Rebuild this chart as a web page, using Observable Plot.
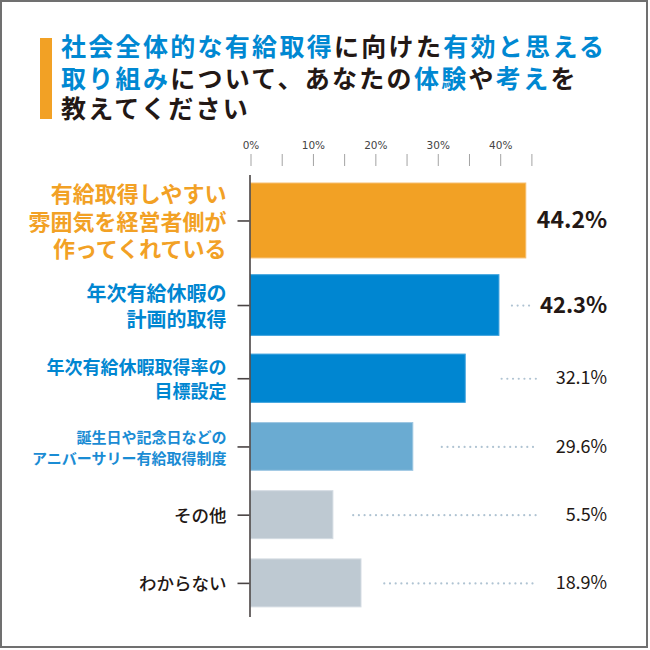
<!DOCTYPE html>
<html>
<head>
<meta charset="utf-8">
<script src="https://cdn.jsdelivr.net/npm/d3@7"></script>
<script src="https://cdn.jsdelivr.net/npm/@observablehq/plot@0.6"></script>
<style>
html, body { margin: 0; padding: 0; background: #fff; }
#page { position: relative; width: 650px; height: 650px; overflow: hidden; font-family: "Noto Sans CJK JP", sans-serif; }
#frame { position: absolute; left: 0; top: 0; width: 648px; height: 648px; box-sizing: border-box; border: 2px solid #707070; pointer-events: none; }
#accent { position: absolute; left: 40px; top: 38px; width: 12px; height: 81px; background: #F2A125; }
#titlebox { position: absolute; left: 0; top: 0; }
#chart { position: absolute; left: 0; top: 125px; }
</style>
</head>
<body>
<div id="page">
  <div id="accent"></div>
  <div id="titlebox"></div>
  <div id="chart"></div>
  <div id="frame"></div>
</div>
<script>
// ---- data ----
const titleLines = [
  [["社会全体的な有給取得", "b"], ["に向けた", "d"], ["有効と思える", "b"]],
  [["取り組み", "b"], ["について、あなたの", "d"], ["体験", "b"], ["や", "d"], ["考え", "b"], ["を", "d"]],
  [["教えてください", "d"]]
];
const categories = [
  "有給取得しやすい\n雰囲気を経営者側が\n作ってくれている",
  "年次有給休暇の\n計画的取得",
  "年次有給休暇取得率の\n目標設定",
  "誕生日や記念日などの\nアニバーサリー有給取得制度",
  "その他",
  "わからない"
];
const values = [44.2, 42.3, 32.1, 29.6, 5.5, 18.9];      // printed percentages
const barLengths = [44.1, 39.8, 34.4, 26.0, 13.2, 17.7];  // bar lengths as drawn in the picture (%)
const xTicks = [0, 5, 10, 15, 20, 25, 30, 35, 40, 45];
const xTickLabels = [0, 10, 20, 30, 40];

// ---- styling ----
const font = '"Noto Sans CJK JP", sans-serif';
// Japanese-only texts: CJK glyphs come from Noto Sans CJK JP, compact line metrics from the first family
const jpFont = '"Liberation Sans", "Noto Sans CJK JP", sans-serif';
const titleBaselines = [56, 88, 118];
const titleColors = { b: "#0088D2", d: "#231815" };
const rowWeight = [1.333, 1.146, 1, 1, 1, 1];
const barThickness = [1.098, 0.89, 0.708, 0.70, 0.703, 0.703];
const barFill = ["#F2A125", "#0086D1", "#0086D1", "#6AABD2", "#BEC9D2", "#BEC9D2"];
const barStroke = ["#F6BE6E", "#3FA3DE", "#3FA3DE", "#9CC6E2", "#D3DBE2", "#D3DBE2"];
const labelFill = ["#F2A125", "#0086D1", "#0086D1", "#1A8CD4", "#231815", "#231815"];
const labelSize = [22, 20, 18, 15, 17.5, 17.5];
const labelWeight = [700, 700, 700, 700, 500, 500];
const labelLine = [1.25, 1.3, 1.31, 1.42, 1.2, 1.2];
const valueSize = [23, 22, 18, 18, 18, 18];
const valueWeight = [700, 700, 400, 400, 400, 400];
const leaderGap = [0, 13, 36.4, 29, 20.3, 23.3];
const leaderEnd = [0, 0.3, 5.3, 5.6, 5.6, 6.6];

// ---- title (single SVG text element) ----
const tsvg = d3.create("svg").attr("width", 650).attr("height", 125);
const ttext = tsvg.append("text")
  .attr("font-family", jpFont).attr("font-size", 25).attr("font-weight", 700)
  .attr("letter-spacing", "2.3px");
titleLines.forEach((line, li) => {
  line.forEach(([s, c], si) => {
    const ts = ttext.append("tspan").attr("fill", titleColors[c]).text(s);
    if (si === 0) ts.attr("x", 61).attr("y", titleBaselines[li]);
  });
});
document.getElementById("titlebox").appendChild(tsvg.node());

// ---- chart ----
const W = 650, H = 525, ML = 250.5, MR = 118.6;
const k = (W - MR - ML) / 45;

let acc = 0;
const rows = categories.map((c, i) => {
  const y0 = acc;
  acc += rowWeight[i];
  const yc = y0 + rowWeight[i] / 2;
  return { i, category: c, value: values[i], bar: barLengths[i], yc, y1: yc - barThickness[i] / 2, y2: yc + barThickness[i] / 2 };
});
const total = acc;

const marks = [
  Plot.axisX({ anchor: "top", ticks: xTicks, tickSize: 12, tickFormat: () => "", color: "#a3a3a3", label: null }),
  Plot.axisX({ anchor: "top", ticks: xTickLabels, tickSize: 0, tickPadding: 17, tickFormat: d => d + "%", color: "#444", fontSize: 10.5, fontFamily: "DejaVu Sans", label: null }),
  Plot.rect(rows, { x1: 0, x2: "bar", y1: "y1", y2: "y2", fill: d => barFill[d.i], stroke: d => barStroke[d.i], strokeWidth: 1 }),
  Plot.ruleX([0], { y1: 0, y2: total, stroke: "#4a4444", strokeWidth: 1.6, dx: -1 }),
  Plot.axisY({ ticks: rows.map(d => d.yc), tickSize: 12, tickFormat: () => "", color: "#4a4444", strokeWidth: 1.6, dx: -1, label: null }),
  Plot.ruleY(rows.filter(d => d.i > 0), {
    y: "yc",
    x1: d => d.bar + leaderGap[d.i] / k,
    x2: d => 45 + leaderEnd[d.i] / k,
    stroke: "#AFC3D2", strokeWidth: 2.2, strokeDasharray: "0 5.7", strokeLinecap: "round"
  })
];
rows.forEach(d => {
  marks.push(Plot.text([d], {
    y: "yc", text: "category", frameAnchor: "left", dx: -24.5, textAnchor: "end", lineAnchor: "middle",
    fill: labelFill[d.i], fontSize: labelSize[d.i], fontWeight: labelWeight[d.i], lineHeight: labelLine[d.i], fontFamily: jpFont
  }));
  marks.push(Plot.text([d], {
    y: "yc", text: r => r.value.toFixed(1) + "%", frameAnchor: "right", dx: 75.3, textAnchor: "end", lineAnchor: "middle",
    fill: "#231815", fontSize: valueSize[d.i], fontWeight: valueWeight[d.i], fontFamily: font
  }));
});

const chart = Plot.plot({
  width: W, height: H,
  marginLeft: ML, marginRight: MR, marginTop: 40, marginBottom: 33,
  x: { domain: [0, 45] },
  y: { domain: [0, total], range: [50, 492] },
  color: { type: "identity" },
  style: { fontFamily: font, background: "transparent", overflow: "visible" },
  marks
});
document.getElementById("chart").appendChild(chart);
</script>
</body>
</html>
